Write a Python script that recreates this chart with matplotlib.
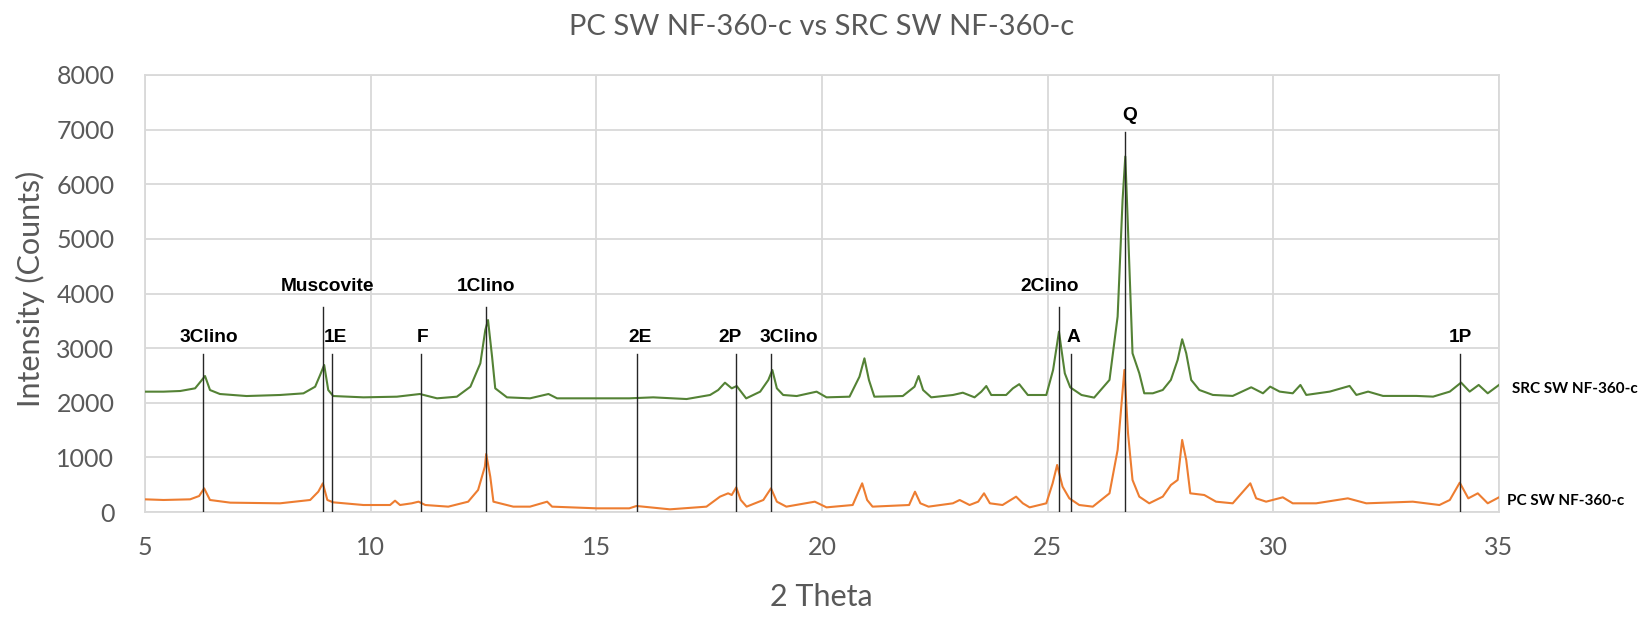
import matplotlib
matplotlib.use("Agg")
import matplotlib.pyplot as plt

# --- XRD traces (2-theta in degrees, intensity in counts) ---
src_two_theta = [
    5.00, 5.41, 5.78, 6.11, 6.26, 6.33, 6.44, 6.66, 7.25, 7.99, 8.51, 8.77, 8.88, 8.97,
    9.06, 9.17, 9.84, 10.58, 11.09, 11.47, 11.91, 12.21, 12.43, 12.54, 12.60, 12.69,
    12.76, 13.02, 13.53, 13.94, 14.13, 15.01, 15.73, 16.26, 17.00, 17.52, 17.70, 17.85,
    18.00, 18.11, 18.32, 18.63, 18.81, 18.90, 19.00, 19.14, 19.44, 19.88, 20.10, 20.61,
    20.83, 20.94, 21.04, 21.16, 21.79, 22.05, 22.14, 22.24, 22.42, 22.90, 23.12, 23.38,
    23.53, 23.64, 23.75, 24.08, 24.23, 24.37, 24.56, 24.97, 25.12, 25.25, 25.38, 25.50,
    25.75, 26.03, 26.37, 26.55, 26.66, 26.72, 26.77, 26.88, 27.03, 27.14, 27.33, 27.55,
    27.73, 27.88, 27.98, 28.07, 28.18, 28.36, 28.66, 29.10, 29.51, 29.77, 29.93, 30.14,
    30.43, 30.60, 30.73, 31.25, 31.69, 31.84, 32.10, 32.43, 33.17, 33.54, 33.91, 34.16,
    34.35, 34.55, 34.75, 35.00,
]
src_counts = [
    2203, 2203, 2215, 2264, 2416, 2489, 2233, 2160, 2123, 2142, 2172, 2294, 2508, 2691,
    2233, 2123, 2099, 2111, 2160, 2081, 2111, 2294, 2721, 3331, 3514, 2843,
    2264, 2099, 2081, 2160, 2081, 2081, 2081, 2099, 2068, 2142, 2233, 2367,
    2264, 2306, 2080, 2203, 2416, 2599, 2264, 2142, 2123, 2203, 2099, 2111,
    2477, 2813, 2416, 2111, 2123, 2294, 2489, 2233, 2099, 2142, 2184, 2099,
    2203, 2306, 2142, 2142, 2264, 2340, 2142, 2142, 2600, 3301, 2538, 2282,
    2142, 2094, 2418, 3578, 5714, 6508, 5409, 2906, 2540, 2173, 2173, 2234,
    2418, 2784, 3162, 2906, 2418, 2234, 2143, 2125, 2283, 2173, 2295, 2204,
    2173, 2326, 2143, 2204, 2308, 2143, 2204, 2125, 2125, 2112, 2204, 2369,
    2204, 2326, 2173, 2326,
]

pc_two_theta = [
    5.00, 5.41, 6.00, 6.20, 6.31, 6.44, 6.89, 7.99, 8.66, 8.84, 8.94, 9.04, 9.17, 9.84,
    10.43, 10.54, 10.65, 10.91, 11.06, 11.21, 11.72, 12.16, 12.38, 12.53, 12.56, 12.65,
    12.72, 13.16, 13.53, 13.91, 14.02, 15.01, 15.73, 15.89, 16.63, 17.44, 17.74, 17.92,
    18.00, 18.10, 18.20, 18.33, 18.70, 18.87, 19.00, 19.21, 19.84, 20.10, 20.68, 20.89,
    21.00, 21.12, 21.93, 22.06, 22.18, 22.36, 22.90, 23.05, 23.27, 23.46, 23.59, 23.72,
    24.00, 24.30, 24.45, 24.60, 24.97, 25.11, 25.21, 25.33, 25.48, 25.70, 26.00, 26.37,
    26.55, 26.70, 26.78, 26.88, 27.03, 27.25, 27.55, 27.73, 27.88, 27.98, 28.07, 28.16,
    28.47, 28.73, 29.10, 29.49, 29.62, 29.84, 30.21, 30.43, 30.95, 31.65, 32.06, 33.09,
    33.68, 33.91, 34.13, 34.32, 34.53, 34.75, 35.00,
]
pc_counts = [
    232, 220, 232, 293, 433, 220, 171, 159, 220, 372, 525, 220, 177, 128,
    128, 207, 128, 159, 189, 128, 98, 189, 403, 830, 1062, 647,
    189, 98, 98, 189, 98, 67, 67, 110, 49, 98, 281, 342,
    311, 451, 220, 98, 220, 433, 189, 98, 189, 85, 128, 525,
    220, 98, 128, 372, 159, 98, 159, 220, 128, 189, 342, 159,
    128, 281, 159, 85, 159, 525, 861, 464, 250, 128, 98, 342,
    1136, 2601, 1441, 586, 281, 159, 281, 494, 586, 1319, 952, 342,
    311, 189, 159, 525, 250, 189, 269, 159, 159, 250, 159, 189,
    128, 220, 537, 250, 342, 159, 269,
]

series_names = ["SRC SW NF-360-c", "PC SW NF-360-c"]

# --- phase markers: name, 2-theta position, height of the marker line ---
marker_names = ["3Clino", "Muscovite", "1E", "F", "1Clino", "2E", "2P", "3Clino",
                "2Clino", "A", "Q", "1P"]
marker_theta = [6.29, 8.95, 9.15, 11.11, 12.56, 15.91, 18.10, 18.87,
                25.25, 25.51, 26.71, 34.14]
marker_top = [2900, 3750, 2900, 2900, 3750, 2900, 2900, 2900,
              3750, 2900, 6960, 2900]

# label placement (shift along x, in degrees) for each marker name
label_shift = [0.13, 0.09, 0.08, 0.03, 0.0, 0.05, -0.14, 0.40,
               -0.21, 0.07, 0.10, 0.0]

title = "PC SW NF-360-c vs SRC SW NF-360-c"
x_label = "2 Theta"
y_label = "Intensity (Counts)"
x_ticks = [5, 10, 15, 20, 25, 30, 35]
y_ticks = [0, 1000, 2000, 3000, 4000, 5000, 6000, 7000, 8000]

# --- styling ---
W, H = 1652, 618
TEXT_GREY = "#595959"
GRID_GREY = "#d9d9d9"
GREEN = "#548235"
ORANGE = "#ED7D31"
UI_FONT = ["Lato", "DejaVu Sans"]
MARK_FONT = ["Liberation Sans", "DejaVu Sans"]

fig = plt.figure(figsize=(W / 100, H / 100), dpi=100)
ax = fig.add_axes([145 / W, (H - 512) / H, (1499 - 145) / W, (512 - 75) / H])

ax.set_xlim(x_ticks[0], x_ticks[-1])
ax.set_ylim(y_ticks[0], y_ticks[-1])
ax.set_xticks(x_ticks)
ax.set_yticks(y_ticks)
ax.grid(True, color=GRID_GREY, linewidth=1.3)
ax.set_axisbelow(True)
for sp in ax.spines.values():
    sp.set_color(GRID_GREY)
    sp.set_linewidth(1.3)
ax.tick_params(axis="both", length=0, labelcolor=TEXT_GREY, labelsize=18)
ax.tick_params(axis="x", pad=17)
ax.tick_params(axis="y", pad=22)
for lab in ax.get_xticklabels() + ax.get_yticklabels():
    lab.set_fontfamily(UI_FONT)

# marker lines from the baseline up to their tops
for th, top in zip(marker_theta, marker_top):
    ax.plot([th, th], [0, top], color="#262626", linewidth=1.0, zorder=4)

# traces
ax.plot(src_two_theta, src_counts, color=GREEN, linewidth=1.5, zorder=3)
ax.plot(pc_two_theta, pc_counts, color=ORANGE, linewidth=1.5, zorder=3)

# marker names above the lines
for name, th, top, dx in zip(marker_names, marker_theta, marker_top, label_shift):
    gap = 370 if 3500 < top < 5000 else 295
    ax.text(th + dx, top + gap, name, ha="center", va="center",
            fontsize=13.8, fontweight="bold", family=MARK_FONT, color="black",
            zorder=5)

# series names at the end of each trace
for name, xs, ys, off in [(series_names[0], src_two_theta, src_counts, 9),
                          (series_names[1], pc_two_theta, pc_counts, 6)]:
    ax.annotate(name, xy=(xs[-1], ys[-1]), xytext=(off, -3),
                textcoords="offset points", ha="left", va="center",
                fontsize=11, fontweight="bold", family=UI_FONT, color="black",
                annotation_clip=False)

fig.text(822 / W, 1 - 27 / H, title, ha="center", va="center",
         fontsize=21, color=TEXT_GREY, family=UI_FONT)
fig.text(821 / W, 1 - 597 / H, x_label, ha="center", va="center",
         fontsize=22, color=TEXT_GREY, family=UI_FONT)
fig.text(30 / W, 1 - 289 / H, y_label, ha="center", va="center",
         rotation=90, fontsize=22, color=TEXT_GREY, family=UI_FONT)

fig.savefig("out.png", dpi=100, facecolor="white")
